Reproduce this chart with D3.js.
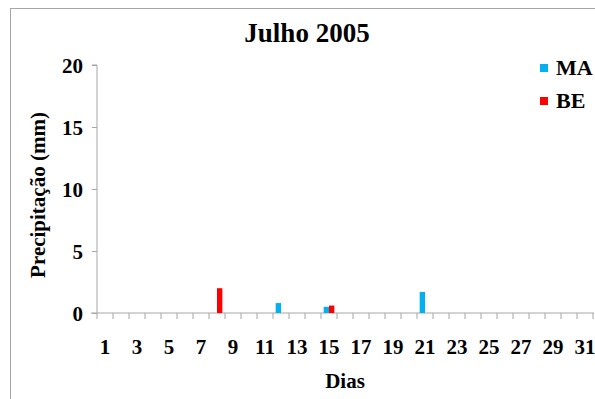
<!DOCTYPE html>
<html>
<head>
<meta charset="utf-8">
<script src="https://cdn.jsdelivr.net/npm/d3@7"></script>
<style>
  html, body { margin: 0; padding: 0; background: #fff; }
  svg { display: block; }
  text { font-family: "Liberation Serif", "Times New Roman", serif; font-weight: bold; fill: #000; }
</style>
</head>
<body>
<svg id="chart" width="595" height="399"></svg>
<script>
// Daily precipitation, July 2005 (mm)
const days = d3.range(1, 32);
const seriesNames = ["MA", "BE"];
const seriesColors = ["#00B0F0", "#FF0000"];
const maValues = days.map(d => ({12: 0.8, 15: 0.5, 21: 1.7}[d] || 0));
const beValues = days.map(d => ({8: 2.0, 15: 0.6}[d] || 0));
const yTicks = [0, 5, 10, 15, 20];
const xTickLabels = days.filter(d => d % 2 === 1);

const svg = d3.select("#chart");
const W = 595, H = 399;
const m = { left: 97, right: 2, top: 65, bottom: 86 };

// outer chart frame
svg.append("rect")
  .attr("x", 10.5).attr("y", 8.5)
  .attr("width", 600).attr("height", 420)
  .attr("fill", "none").attr("stroke", "#a6a6a6").attr("stroke-width", 1);

const x = d3.scaleBand().domain(days).range([m.left, W - m.right]).paddingInner(0).paddingOuter(0);
const xSub = d3.scaleBand().domain(seriesNames).range([0, x.bandwidth()]).paddingOuter(0.5);
const y = d3.scaleLinear().domain([0, 20]).range([H - m.bottom, m.top]);

// title
svg.append("text")
  .attr("x", 307).attr("y", 42)
  .attr("text-anchor", "middle")
  .style("font-size", "27px")
  .text("Julho 2005");

// y axis
const yAxis = svg.append("g")
  .attr("transform", `translate(${m.left},0)`)
  .call(d3.axisLeft(y).tickValues(yTicks).tickSize(5).tickPadding(9));
yAxis.select(".domain").attr("stroke", "#a6a6a6").attr("d", `M-5,${y(20)}H0V${y(0)}`);
yAxis.selectAll(".tick line").attr("stroke", "#a6a6a6");
yAxis.selectAll(".tick text").style("font-size", "21px").attr("dy", "0.34em");

// x axis: ticks on band edges, labels on odd days
const xg = svg.append("g").attr("transform", `translate(0,${y(0)})`);
xg.append("line")
  .attr("x1", m.left - 6).attr("x2", W - m.right + 1)
  .attr("y1", 0).attr("y2", 0)
  .attr("stroke", "#a6a6a6");
const edges = days.map(d => x(d)).concat([x(31) + x.bandwidth()]);
xg.selectAll("line.tk").data(edges).enter().append("line")
  .attr("class", "tk")
  .attr("x1", d => d).attr("x2", d => d)
  .attr("y1", 0).attr("y2", 6)
  .attr("stroke", "#a6a6a6");
xg.selectAll("text.lbl").data(xTickLabels).enter().append("text")
  .attr("class", "lbl")
  .attr("x", d => x(d) + x.bandwidth() / 2)
  .attr("y", 41)
  .attr("text-anchor", "middle")
  .style("font-size", "21px")
  .text(d => d);

// bars
const series = [maValues, beValues];
series.forEach((vals, i) => {
  svg.append("g").selectAll("rect")
    .data(days.map((d, k) => ({ day: d, v: vals[k] })).filter(o => o.v > 0))
    .enter().append("rect")
    .attr("x", o => x(o.day) + xSub(seriesNames[i]))
    .attr("width", xSub.bandwidth())
    .attr("y", o => y(o.v))
    .attr("height", o => y(0) - y(o.v))
    .attr("fill", seriesColors[i]);
});

// axis titles
svg.append("text")
  .attr("x", 345).attr("y", 388)
  .attr("text-anchor", "middle")
  .style("font-size", "21px")
  .text("Dias");
svg.append("text")
  .attr("transform", `translate(45,195) rotate(-90)`)
  .attr("text-anchor", "middle")
  .style("font-size", "21px")
  .text("Precipitação (mm)");

// legend
const lg = svg.append("g");
seriesNames.forEach((s, i) => {
  const yy = 68 + i * 33;
  lg.append("rect")
    .attr("x", 540).attr("y", yy - 4)
    .attr("width", 8).attr("height", 8)
    .attr("fill", seriesColors[i]);
  lg.append("text")
    .attr("x", 556).attr("y", yy + 7)
    .style("font-size", "22px")
    .text(s);
});
</script>
</body>
</html>
